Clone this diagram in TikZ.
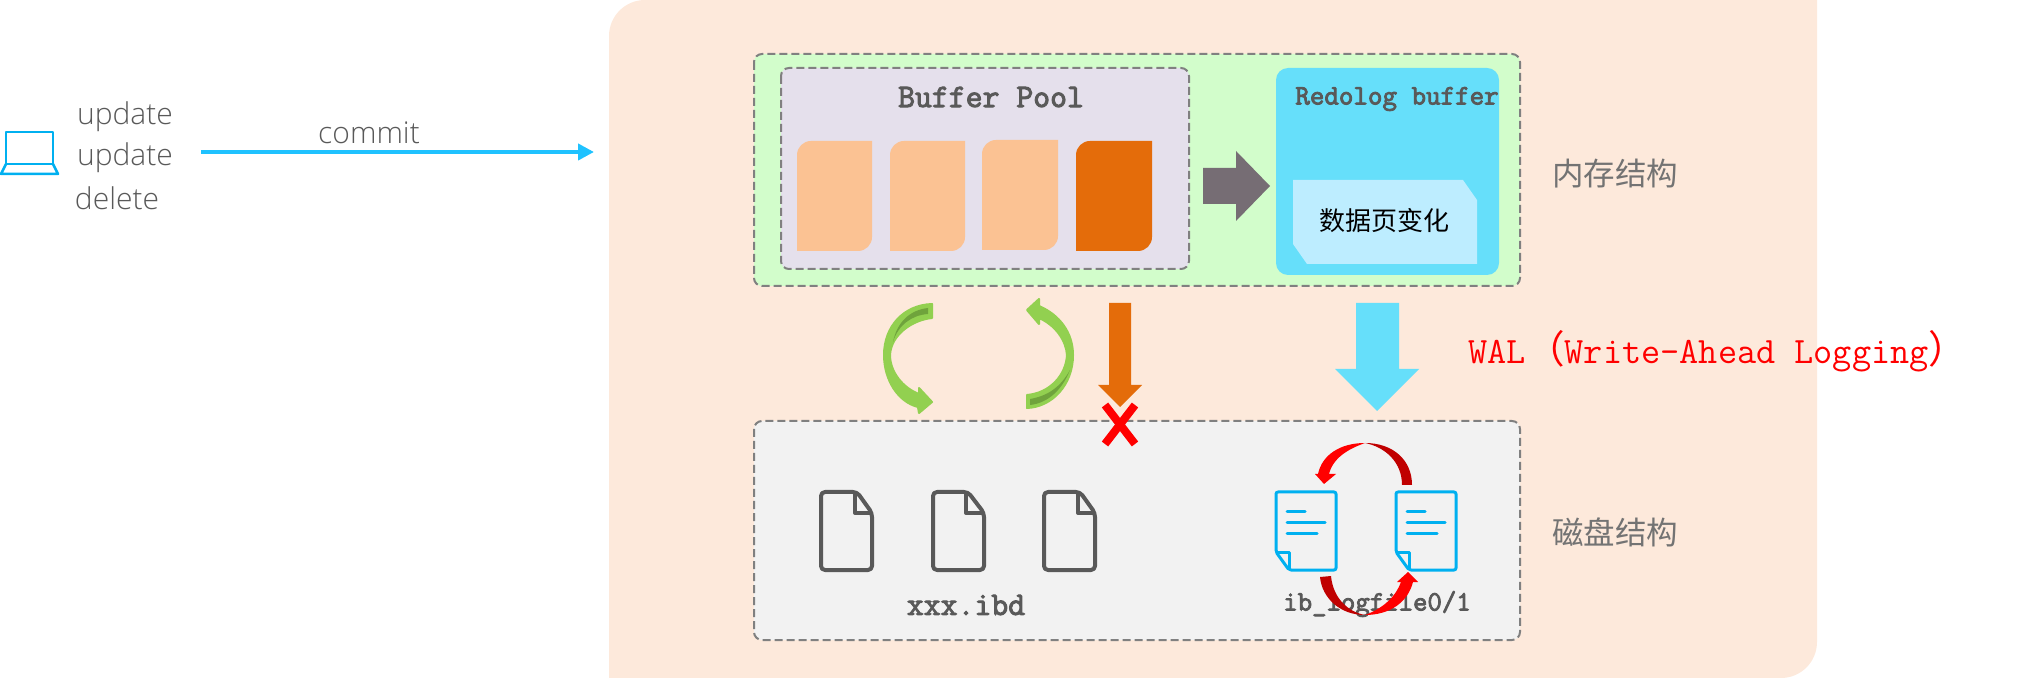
\documentclass[tikz,border=0pt]{standalone}
\usepackage{fontspec}
\usepackage{xcolor}
\usepackage{tikz}
\usetikzlibrary{arrows.meta,positioning,calc}
\setmainfont{Open Sans Light}
\setmonofont{Latin Modern Mono}
\newfontfamily\boldmono[FakeBold=3]{Latin Modern Mono}
\newfontfamily\cjk{Noto Sans CJK SC}
\definecolor{peachbg}{HTML}{FDE9DB}
\definecolor{membg}{HTML}{D2FDCB}
\definecolor{poolbg}{HTML}{E5E0EC}
\definecolor{disk}{HTML}{F2F2F2}
\definecolor{pagelight}{HTML}{FBC293}
\definecolor{pagedark}{HTML}{E46C0A}
\definecolor{redobg}{HTML}{66DFFA}
\definecolor{redopage}{HTML}{BDEDFF}
\definecolor{slate}{HTML}{766D74}
\definecolor{inktext}{HTML}{595959}
\definecolor{commitblue}{HTML}{1FC2FF}
\definecolor{iconblue}{HTML}{00B0F0}
\definecolor{leaf}{HTML}{92D050}
\definecolor{leafdark}{HTML}{6FA33C}
\definecolor{darkred}{HTML}{C00000}
\tikzset{
	dashbox/.style={draw=black!50,line width=1pt,dash pattern=on 4pt off 2pt,rounded corners=4pt},
	plain/.style={font=\fontsize{15}{17}\selectfont,text=inktext,inner sep=0pt},
	monotitle/.style={font=\fontsize{16.4}{18}\selectfont\boldmono,text=inktext,inner sep=0pt},
	cjklabel/.style={font=\fontsize{15.75}{18}\selectfont\cjk,text=black!55,inner sep=0pt},
	fileicon/.style={draw=inktext,line width=2pt,rounded corners=2pt,line join=round},
	logicon/.style={draw=iconblue,line width=1.5pt,rounded corners=1pt,line join=round},
	logline/.style={draw=iconblue,line width=1.5pt,line cap=round},
	greenarrow/.style={fill=leaf,draw=leaf,line width=1pt,line join=round},
}
\begin{document}
\begin{tikzpicture}[x=0.5pt,y=-0.5pt]
	\useasboundingbox (0,0) rectangle (2040,678);
	
	% peach background
	\fill[peachbg] (609,678) [rounded corners=18pt] -- (609,0) [sharp corners] -- (1817,0) [rounded corners=18pt] -- (1817,678) [sharp corners] -- cycle;
	
	% client
	\draw[iconblue,line width=1.25pt,line join=round] (6,164) -- (6,132) -- (53,132) -- (53,164) -- cycle;
	\draw[iconblue,line width=1.25pt,line join=round] (6,164) -- (1,174) -- (58,174) -- (53,164);
	\node[plain] (up1) at (125,117) {update};
	\node[plain] (up2) at (125,158) {update};
	\node[plain] (del) at (117,198) {delete};
	\node[plain] (commit) at (369,133) {commit};
	\coordinate (commitA) at (201,152);
	\coordinate (commitB) at (594,152);
	\draw[commitblue,line width=2.2pt,-{Triangle[length=8pt,width=8pt]}] (commitA) -- (commitB);
	
	% memory
	\draw[dashbox,fill=membg] (754,54) rectangle (1520,286);
	\draw[dashbox,fill=poolbg] (781,68) rectangle (1189,269);
	\node[monotitle] (pool) at (991,97) {Buffer Pool};
	\fill[pagelight] (797,251) [rounded corners=7pt] -- (797,141) [sharp corners] -- (872,141) [rounded corners=7pt] -- (872,251) [sharp corners] -- cycle;
	\fill[pagelight] (890,251) [rounded corners=7pt] -- (890,141) [sharp corners] -- (965,141) [rounded corners=7pt] -- (965,251) [sharp corners] -- cycle;
	\fill[pagelight] (982,250) [rounded corners=7pt] -- (982,140) [sharp corners] -- (1058,140) [rounded corners=7pt] -- (1058,250) [sharp corners] -- cycle;
	\fill[pagedark] (1076,251) [rounded corners=7pt] -- (1076,141) [sharp corners] -- (1152,141) [rounded corners=7pt] -- (1152,251) [sharp corners] -- cycle;
	\fill[slate] (1203,168) -- (1236,168) -- (1236,151) -- (1270,186) -- (1236,221) -- (1236,204) -- (1203,204) -- cycle;
	\fill[redobg,rounded corners=6pt] (1276,68) rectangle (1499,275);
	\node[monotitle,font=\fontsize{14.1}{16}\selectfont\boldmono] (redo) at (1397,99) {Redolog buffer};
	\fill[redopage] (1293,180) -- (1463,180) -- (1477,200) -- (1477,264) -- (1307,264) -- (1293,244) -- cycle;
	\node[inner sep=0pt,font=\fontsize{13}{15}\selectfont\cjk] (change) at (1384,221) {数据页变化};
	\node[cjklabel] (memlabel) at (1615,174) {内存结构};
	
	% flushing arrows
	\draw[greenarrow] (932,304) -- (932,318) .. controls (912,320) and (891,335) .. (890,355) .. controls (890,372) and (903,388) .. (919,394) -- (919,388) -- (932,402) -- (919,413) -- (918,407) .. controls (898,402) and (884,380) .. (884,355) .. controls (884,327) and (903,305) .. (932,304) -- cycle;
	\fill[leafdark] (928,308) -- (928,314) .. controls (912,315) and (898,325) .. (893,342) .. controls (897,322) and (910,310) .. (928,308) -- cycle;
	\draw[greenarrow] (1027,408) .. controls (1052,407) and (1073,385) .. (1073,355) .. controls (1073,333) and (1060,315) .. (1039,306) -- (1039,299) -- (1027,310) -- (1039,324) -- (1039,318) .. controls (1055,325) and (1066,340) .. (1067,355) .. controls (1066,375) and (1050,393) .. (1027,395) -- cycle;
	\fill[leafdark] (1030,399) -- (1030,405) .. controls (1048,403) and (1062,390) .. (1070,370) .. controls (1060,388) and (1047,396) .. (1030,399) -- cycle;
	\fill[pagedark] (1109,303) -- (1131,303) -- (1131,385) -- (1142,385) -- (1120,407) -- (1098,385) -- (1109,385) -- cycle;
	\fill[redobg] (1356,303) -- (1399,303) -- (1399,369) -- (1419,369) -- (1377,411) -- (1335,369) -- (1356,369) -- cycle;
	\node[font=\fontsize{18.6}{20}\selectfont\ttfamily,text=red,inner sep=0pt] (wal) at (1718,351) {WAL{\fontsize{19.3}{20}\selectfont\cjk （}Write-Ahead Logging{\fontsize{19.3}{20}\selectfont\cjk ）}};
	
	% disk
	\draw[dashbox,fill=disk] (754,421) rectangle (1520,640);
	\draw[red,line width=4pt] (1105,405) -- (1135,444);
	\draw[red,line width=4pt] (1135,405) -- (1105,444);
	\draw[fileicon] (857,492) -- (821,492) -- (821,570) -- (872,570) -- (872,513) -- cycle;
	\draw[inktext,line width=2pt,line join=round] (855,492) -- (855,513) -- (872,513);
	\draw[fileicon] (968,492) -- (933,492) -- (933,570) -- (984,570) -- (984,513) -- cycle;
	\draw[inktext,line width=2pt,line join=round] (966,492) -- (966,513) -- (984,513);
	\draw[fileicon] (1080,492) -- (1044,492) -- (1044,570) -- (1095,570) -- (1095,513) -- cycle;
	\draw[inktext,line width=2pt,line join=round] (1078,492) -- (1078,513) -- (1095,513);
	\node[monotitle] (ibd) at (966,605) {xxx.ibd};
	\node[cjklabel] (disklabel) at (1615,532) {磁盘结构};
	
	% log files
	\draw[logicon] (1276,552) -- (1276,492) -- (1336,492) -- (1336,570) -- (1289,570) -- cycle;
	\draw[iconblue,line width=1.5pt,line join=round] (1276,552) -- (1289,552) -- (1289,570);
	\draw[logline] (1287,511) -- (1305,511);
	\draw[logline] (1287,522) -- (1325,522);
	\draw[logline] (1287,533) -- (1317,533);
	\draw[logicon] (1396,552) -- (1396,492) -- (1456,492) -- (1456,570) -- (1409,570) -- cycle;
	\draw[iconblue,line width=1.5pt,line join=round] (1396,552) -- (1409,552) -- (1409,570);
	\draw[logline] (1407,511) -- (1425,511);
	\draw[logline] (1407,522) -- (1445,522);
	\draw[logline] (1407,533) -- (1437,533);
	\node[font=\fontsize{14}{16}\selectfont\boldmono,text=inktext,inner sep=0pt] (logfile) at (1377,604) {ib\_logfile0/1};
	
	% log switching
	\fill[darkred] (1402,485) .. controls (1402,462) and (1385,447) .. (1365,443) .. controls (1393,443) and (1412,460) .. (1412,485) -- cycle;
	\fill[red] (1365,443) .. controls (1348,449) and (1333,458) .. (1329,474) -- (1336,474) -- (1324,484) -- (1315,474) -- (1318,474) .. controls (1322,455) and (1340,443) .. (1365,443) -- cycle;
	\fill[darkred] (1320,577) .. controls (1322,598) and (1340,615) .. (1365,615) .. controls (1348,612) and (1333,598) .. (1331,576) -- cycle;
	\fill[red] (1365,615) .. controls (1390,615) and (1408,602) .. (1413,582) -- (1418,582) -- (1408,572) -- (1397,582) -- (1401,582) .. controls (1396,596) and (1384,608) .. (1365,615) -- cycle;
\end{tikzpicture}
\end{document}
